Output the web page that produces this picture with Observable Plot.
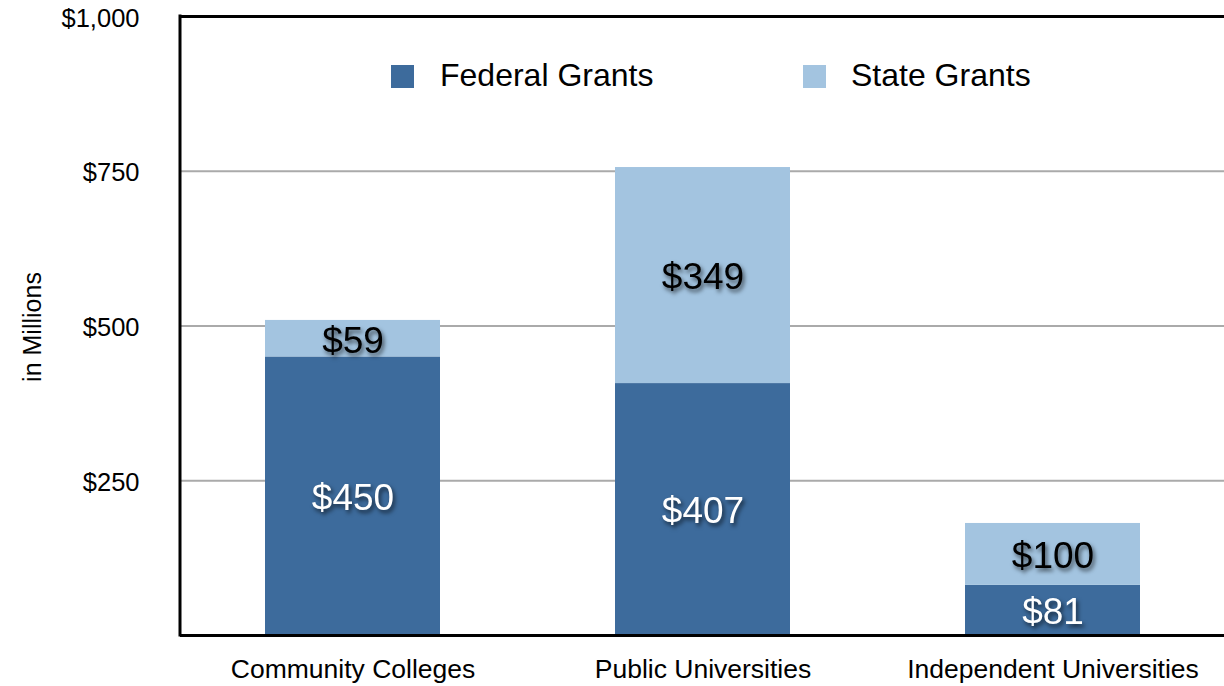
<!DOCTYPE html>
<html>
<head>
<meta charset="utf-8">
<script src="https://cdn.jsdelivr.net/npm/d3@7"></script>
<script src="https://cdn.jsdelivr.net/npm/@observablehq/plot@0.6"></script>
<style>
  html, body { margin: 0; padding: 0; background: #fff; }
  #wrap { position: relative; width: 1224px; height: 686px; font-family: "Liberation Sans", Arial, Helvetica, sans-serif; }
  .lg-sw { position: absolute; width: 23px; height: 23px; }
  .lg-tx { position: absolute; font-size: 32px; color: #000; line-height: 1; }
</style>
</head>
<body>
<div id="wrap"></div>
<script>
const categories = ["Community Colleges", "Public Universities", "Independent Universities"];
const seriesNames = ["Federal Grants", "State Grants"];
const federal = [450, 407, 81];
const state = [59, 349, 100];
const yTicks = [250, 500, 750, 1000];
const yLabel = "in Millions";
const seriesColors = {"Federal Grants": "#3d6b9c", "State Grants": "#a3c4e0"};
const labelColors = {"Federal Grants": "white", "State Grants": "black"};

const rows = [];
categories.forEach((c, i) => {
  rows.push({cat: c, series: "Federal Grants", value: federal[i]});
  rows.push({cat: c, series: "State Grants", value: state[i]});
});

const chart = Plot.plot({
  width: 1224,
  height: 686,
  marginLeft: 180,
  marginRight: 0,
  marginTop: 16,
  marginBottom: 51,
  style: {fontFamily: "'Liberation Sans', Arial, Helvetica, sans-serif", background: "#fff"},
  x: {type: "band", domain: categories, range: [177, 1227], paddingInner: 0.5, paddingOuter: 0.25},
  y: {domain: [0, 1000]},
  marks: [
    Plot.ruleY(yTicks.filter(t => t < 1000), {stroke: "#aaa", strokeWidth: 2}),
    Plot.barY(rows, Plot.stackY({x: "cat", y: "value", z: "series", order: seriesNames, fill: d => seriesColors[d.series]})),
    Plot.text(rows, Plot.stackY({x: "cat", y: "value", z: "series", order: seriesNames,
      text: d => "$" + d.value, fill: d => labelColors[d.series], fontSize: 37, dy: 2})),
    Plot.ruleY([0, 1000], {stroke: "#000", strokeWidth: 3}),
    Plot.axisY({ticks: yTicks, tickFormat: d => "$" + d3.format(",")(d), tickSize: 0, tickPadding: 41,
      fontSize: 25.5, dy: 2, label: null}),
    Plot.axisX({tickSize: 0, tickPadding: 24, fontSize: 26.5, label: null})
  ]
});

const svg = d3.select(chart);
svg.selectAll("g[aria-label='text'] text").style("filter", "drop-shadow(2px 3px 2px rgba(0,0,0,0.6))");
// left frame line
svg.append("line").attr("x1", 180).attr("x2", 180).attr("y1", 14.5).attr("y2", 636.5).attr("stroke", "#000").attr("stroke-width", 3);
// y axis title
svg.append("text")
  .attr("transform", "translate(32,327) rotate(-90)")
  .attr("text-anchor", "middle")
  .attr("dominant-baseline", "central")
  .attr("font-size", 25)
  .attr("fill", "#000")
  .text(yLabel);

const wrap = document.getElementById("wrap");
wrap.appendChild(chart);

const legendPos = [{sw: 391, tx: 440}, {sw: 803, tx: 851}];
seriesNames.forEach((s, i) => {
  const sw = document.createElement("div");
  sw.className = "lg-sw";
  sw.style.left = legendPos[i].sw + "px";
  sw.style.top = "65px";
  sw.style.background = seriesColors[s];
  wrap.appendChild(sw);
  const tx = document.createElement("div");
  tx.className = "lg-tx";
  tx.style.left = legendPos[i].tx + "px";
  tx.style.top = "59px";
  tx.textContent = s;
  wrap.appendChild(tx);
});
</script>
</body>
</html>
